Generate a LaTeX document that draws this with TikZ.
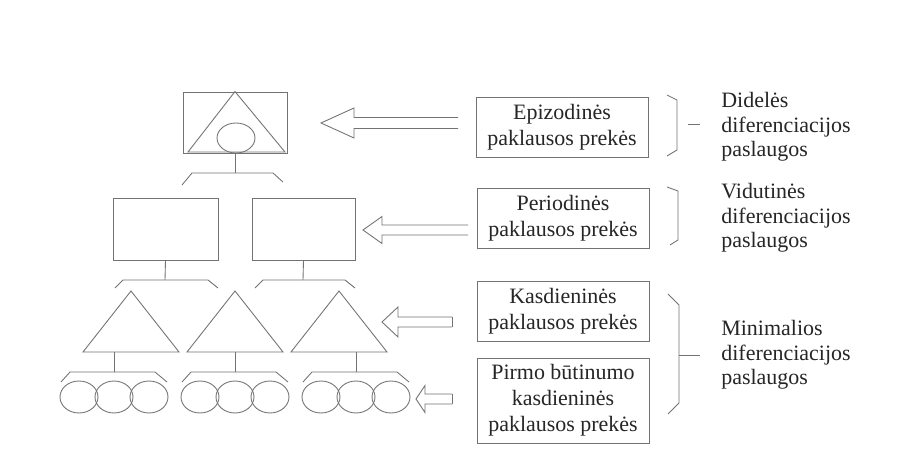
\documentclass[tikz,border=0pt]{standalone}
\usepackage{fontspec}
\setmainfont{Liberation Serif}
\usetikzlibrary{shapes.geometric}

\begin{document}
\begin{tikzpicture}
[x=0.02cm,y=-0.02cm,
  linedecorate/.style={draw=black!55,line width=0.5pt},
  boxdecorate/.style={linedecorate,shape=rectangle,inner sep=0pt},
  ovaldecorate/.style={linedecorate,shape=ellipse,inner sep=0pt},
  textdecorate/.style={boxdecorate,align=center,text=black!85,minimum width=3.44cm,
    font=\fontsize{12.5}{14.7}\selectfont},
  notedecorate/.style={anchor=west,align=left,inner sep=0pt,text=black!85,
    font=\fontsize{12.5}{13.9}\selectfont}]
\useasboundingbox[fill=white] (0,0) rectangle (897,452);

%% hierarchy: top box, middle boxes, triangles, ovals
\node (top) at (235,122.5) [boxdecorate,minimum width=2.08cm,minimum height=1.22cm] {};
\draw[linedecorate] (top.north) -- (188,152) -- (285,152) -- cycle;
\node (eye) at (236,138) [ovaldecorate,minimum width=0.76cm,minimum height=0.6cm] {};
\node (midl) at (165.5,229) [boxdecorate,minimum width=2.1cm,minimum height=1.24cm] {};
\node (midr) at (303.5,229) [boxdecorate,minimum width=2.06cm,minimum height=1.24cm] {};
\foreach \x in {131,235,339} {
  \draw[linedecorate] (\x,291) -- (\x-48,352) -- (\x+48,352) -- cycle;
}
\foreach \g/\x in {1/114,2/235,3/356} {
  \foreach \k/\dx in {a/-35,b/0,c/35} {
    \node (o\g\k) at (\x+\dx,397) [ovaldecorate,minimum width=0.76cm,minimum height=0.64cm] {};
  }
}

%% stems and brackets
\coordinate (s0) at (235,173);
\coordinate (s1) at (165,280);
\coordinate (s2) at (303,280);
\draw[linedecorate] (top.south) -- (s0);
\draw[linedecorate] (midl.south) -- (s1);
\draw[linedecorate] (midr.south) -- (s2);
\draw[linedecorate] (182,185) -- (192,173) -- (273,173) -- (283,182);
\draw[linedecorate] (115,288) -- (123,280) -- (208,280) -- (218,288);
\draw[linedecorate] (255,288) -- (263,280) -- (345,280) -- (355,288);
\foreach \x in {114,235,356} {
  \draw[linedecorate] (\x,352) -- (\x,372);
  \draw[linedecorate] (\x-53,382) -- (\x-44,372) -- (\x+41,372) -- (\x+53,382);
}

%% hollow arrows
\foreach \tx/\ty/\hx/\hh/\sh/\ex/\shut in
  {321/123/354/15/5.5/458/0, 363/230/382/13.5/5/468/0,
   382/322/398/15/5/452/1, 416/399/425/13.5/5/452/1} {
  \draw[linedecorate] (\ex,\ty-\sh) -- (\hx,\ty-\sh) -- (\hx,\ty-\hh) -- (\tx,\ty)
    -- (\hx,\ty+\hh) -- (\hx,\ty+\sh) -- (\ex,\ty+\sh);
  \ifnum\shut=1 \draw[linedecorate] (\ex,\ty-\sh) -- (\ex,\ty+\sh); \fi
}

%% goods boxes
\node (epi) at (562,127) [textdecorate,minimum height=1.2cm] {Epizodinės\\paklausos prekės};
\node (per) at (563,218) [textdecorate,minimum height=1.2cm] {Periodinės\\paklausos prekės};
\node (kas) at (563,311) [textdecorate,minimum height=1.2cm] {Kasdieninės\\paklausos prekės};
\node (pir) at (563,400.5) [textdecorate,minimum height=1.7cm] {Pirmo būtinumo\\kasdieninės\\paklausos prekės};

%% braces and services
\draw[linedecorate] (667,95) -- (677,100) -- (677,150) -- (667,156);
\draw[linedecorate] (667,187) -- (678,191) -- (678,240) -- (670,245);
\draw[linedecorate] (668,294) -- (679,305) -- (679,403) -- (668,414);
\coordinate (b1) at (688,124);
\coordinate (b3) at (679,355);
\draw[linedecorate] (b1) -- (700,124);
\draw[linedecorate] (b3) -- (700,355);
\node (did) at (721,127) [notedecorate] {Didelės\\diferenciacijos\\paslaugos};
\node (vid) at (721,218) [notedecorate] {Vidutinės\\diferenciacijos\\paslaugos};
\node (min) at (721,355) [notedecorate] {Minimalios\\diferenciacijos\\paslaugos};
\end{tikzpicture}
\end{document}
